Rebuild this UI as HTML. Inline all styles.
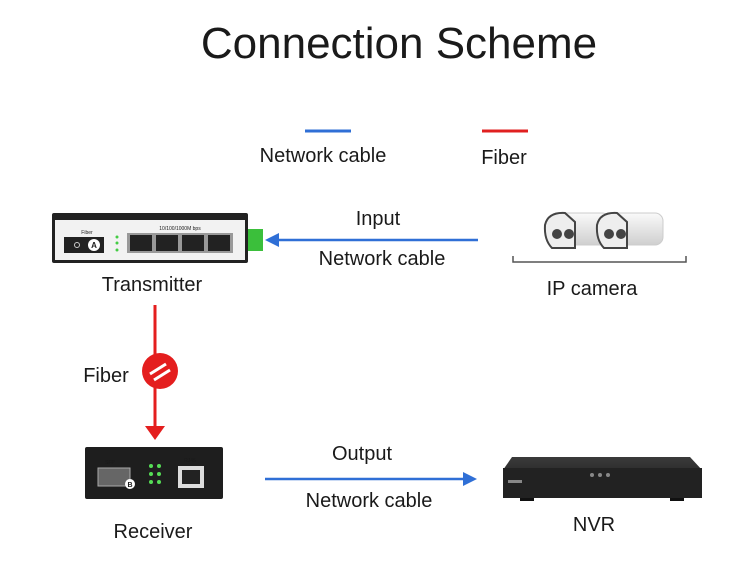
<!DOCTYPE html>
<html><head><meta charset="utf-8"><style>
html,body{margin:0;padding:0;background:#fff;width:750px;height:581px;overflow:hidden}
svg text{font-family:"Liberation Sans","DejaVu Sans",sans-serif;fill:#1a1a1a}
</style></head><body>
<svg width="750" height="581" viewBox="0 0 750 581" xmlns="http://www.w3.org/2000/svg">
<defs>
<linearGradient id="cam" x1="0" y1="0" x2="0" y2="1"><stop offset="0" stop-color="#fafafa"/><stop offset="1" stop-color="#cfcfcf"/></linearGradient>
<linearGradient id="nvr" x1="0" y1="0" x2="0" y2="1"><stop offset="0" stop-color="#3a3a3a"/><stop offset="1" stop-color="#151515"/></linearGradient>
</defs>
<text x="399" y="58" font-size="44" text-anchor="middle">Connection Scheme</text>
<!-- legend -->
<line x1="305" y1="131" x2="351" y2="131" stroke="#2f6fd6" stroke-width="3"/>
<text x="323" y="162" font-size="20" text-anchor="middle">Network cable</text>
<line x1="482" y1="131" x2="528" y2="131" stroke="#e02020" stroke-width="3"/>
<text x="504" y="164" font-size="20" text-anchor="middle">Fiber</text>

<!-- transmitter -->
<rect x="248" y="229" width="15" height="22" fill="#3bbf3b"/>
<rect x="52" y="213" width="196" height="50" rx="2" fill="#222"/>
<rect x="55" y="220" width="190" height="40" fill="#f2f2f2"/>
<text x="87" y="234" font-size="5" fill="#333" text-anchor="middle">Fiber</text>
<rect x="64" y="237" width="40" height="16" fill="#222"/>
<circle cx="77" cy="245" r="2.5" fill="none" stroke="#ccc" stroke-width="1"/>
<circle cx="94" cy="245" r="6" fill="#fff"/>
<text x="94" y="248" font-size="8" text-anchor="middle" font-weight="bold">A</text>
<circle cx="117" cy="237" r="1.5" fill="#4c4"/><circle cx="117" cy="243" r="1.5" fill="#4c4"/><circle cx="117" cy="250" r="1.5" fill="#4c4"/>
<text x="180" y="230" font-size="5" fill="#333" text-anchor="middle">10/100/1000M bps</text>
<rect x="127" y="233" width="106" height="20" fill="#999"/>
<rect x="130" y="235" width="22" height="16" fill="#222"/><rect x="156" y="235" width="22" height="16" fill="#222"/>
<rect x="182" y="235" width="22" height="16" fill="#222"/><rect x="208" y="235" width="22" height="16" fill="#222"/>
<text x="152" y="291" font-size="20" text-anchor="middle">Transmitter</text>

<!-- input arrow -->
<line x1="478" y1="240" x2="276" y2="240" stroke="#2f6fd6" stroke-width="2.5"/>
<polygon points="265,240 279,233 279,247" fill="#2f6fd6"/>
<text x="378" y="225" font-size="20" text-anchor="middle">Input</text>
<text x="382" y="265" font-size="20" text-anchor="middle">Network cable</text>

<!-- cameras -->
<g>
<rect x="555" y="213" width="55" height="32" rx="8" fill="url(#cam)" stroke="#ccc"/>
<path d="M545 225 Q548 212 565 213 L575 222 L575 248 L552 248 Q544 240 545 225Z" fill="#eee" stroke="#444" stroke-width="2"/>
<circle cx="557" cy="234" r="5" fill="#444"/><circle cx="569" cy="234" r="5" fill="#444"/>
<rect x="605" y="213" width="58" height="32" rx="8" fill="url(#cam)" stroke="#ccc"/>
<path d="M597 225 Q600 212 617 213 L627 222 L627 248 L604 248 Q596 240 597 225Z" fill="#eee" stroke="#444" stroke-width="2"/>
<circle cx="609" cy="234" r="5" fill="#444"/><circle cx="621" cy="234" r="5" fill="#444"/>
</g>
<path d="M513 256 V262 H686 V256" fill="none" stroke="#555" stroke-width="1.5"/>
<text x="592" y="295" font-size="20" text-anchor="middle">IP camera</text>

<!-- fiber vertical -->
<line x1="155" y1="305" x2="155" y2="428" stroke="#e41e1e" stroke-width="3"/>
<polygon points="145,426 165,426 155,440" fill="#e41e1e"/>
<circle cx="160" cy="371" r="18" fill="#e41e1e"/>
<line x1="150" y1="374" x2="166" y2="364" stroke="#fff" stroke-width="3"/>
<line x1="154" y1="380" x2="170" y2="370" stroke="#fff" stroke-width="3"/>
<text x="106" y="382" font-size="20" text-anchor="middle">Fiber</text>

<!-- receiver -->
<rect x="85" y="447" width="138" height="52" rx="2" fill="#1e1e1e"/>
<text x="110" y="464" font-size="5" fill="#aaa" text-anchor="middle">SFP</text>
<rect x="98" y="468" width="32" height="18" fill="#666" stroke="#aaa"/>
<circle cx="130" cy="484" r="5" fill="#fff"/>
<text x="130" y="487" font-size="7" text-anchor="middle" font-weight="bold">B</text>
<circle cx="151" cy="466" r="2" fill="#5d5"/><circle cx="159" cy="466" r="2" fill="#5d5"/>
<circle cx="151" cy="474" r="2" fill="#5d5"/><circle cx="159" cy="474" r="2" fill="#5d5"/>
<circle cx="151" cy="482" r="2" fill="#5d5"/><circle cx="159" cy="482" r="2" fill="#5d5"/>
<text x="190" y="462" font-size="5" fill="#aaa" text-anchor="middle">RJ45</text>
<rect x="178" y="466" width="26" height="22" fill="#ddd"/>
<rect x="182" y="470" width="18" height="14" fill="#222"/>
<text x="153" y="538" font-size="20" text-anchor="middle">Receiver</text>

<!-- output arrow -->
<line x1="265" y1="479" x2="464" y2="479" stroke="#2f6fd6" stroke-width="2.5"/>
<polygon points="477,479 463,472 463,486" fill="#2f6fd6"/>
<text x="362" y="460" font-size="20" text-anchor="middle">Output</text>
<text x="369" y="507" font-size="20" text-anchor="middle">Network cable</text>

<!-- NVR -->
<polygon points="512,457 690,457 702,470 702,498 503,498 503,470" fill="url(#nvr)"/>
<rect x="503" y="468" width="199" height="30" fill="#222"/>
<rect x="508" y="480" width="14" height="3" fill="#888"/>
<circle cx="592" cy="475" r="2" fill="#888"/><circle cx="600" cy="475" r="2" fill="#888"/><circle cx="608" cy="475" r="2" fill="#888"/>
<rect x="520" y="498" width="14" height="3" fill="#111"/><rect x="670" y="498" width="14" height="3" fill="#111"/>
<text x="594" y="531" font-size="20" text-anchor="middle">NVR</text>
</svg>
</body></html>
